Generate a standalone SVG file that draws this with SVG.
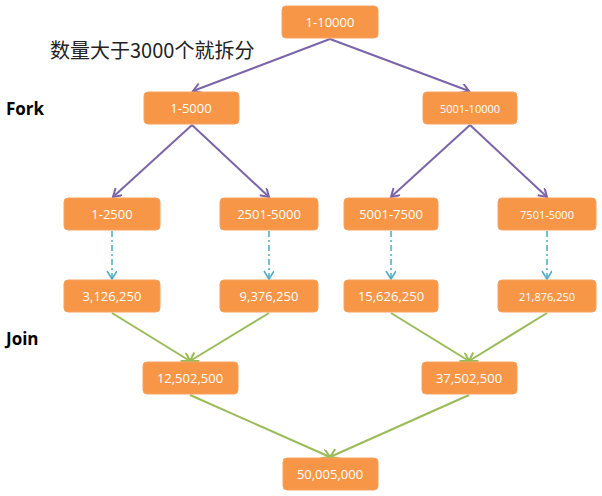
<svg xmlns="http://www.w3.org/2000/svg" width="602" height="496" viewBox="0 0 602 496">
<style>
.n rect{fill:#f79646;stroke:#f5a262;stroke-width:1}
.n text{fill:#fff;font-family:"Open Sans","Liberation Sans",sans-serif;font-size:13px;text-anchor:middle}
.p{stroke:#7965a8;stroke-width:2;fill:none;marker-end:url(#ap)}
.b{stroke:#4bacc6;stroke-width:1.5;fill:none;stroke-dasharray:6 3 2 3;marker-end:url(#ab)}
.g{stroke:#9bbb59;stroke-width:2;fill:none;marker-end:url(#ag)}
.l{font-family:"Open Sans","Liberation Sans",sans-serif;font-weight:bold;font-size:17px;fill:#000}
</style>
<defs>
<marker id="ap" markerWidth="12" markerHeight="12" refX="9" refY="5" orient="auto" markerUnits="userSpaceOnUse"><path d="M1,0 L9,5 L1,10" fill="none" stroke="#7965a8" stroke-width="2"/></marker>
<marker id="ab" markerWidth="12" markerHeight="12" refX="9" refY="5" orient="auto" markerUnits="userSpaceOnUse"><path d="M1,0 L9,5 L1,10" fill="none" stroke="#4bacc6" stroke-width="1.5"/></marker>
<marker id="ag" markerWidth="12" markerHeight="12" refX="9" refY="5" orient="auto" markerUnits="userSpaceOnUse"><path d="M1,0 L9,5 L1,10" fill="none" stroke="#9bbb59" stroke-width="2"/></marker>
</defs>
<rect width="602" height="496" fill="#fff"/>
<text x="50" y="58" font-family="Noto Sans CJK SC,sans-serif" font-size="20" fill="#222">数量大于3000个就拆分</text>
<text class="l" x="6" y="115">Fork</text>
<text class="l" x="6" y="345">Join</text>
<g id="connectors">
<path class="p" d="M330,39 L193,91"/>
<path class="p" d="M330,39 L469,91"/>
<path class="p" d="M192,125 L113,197"/>
<path class="p" d="M192,125 L269,197"/>
<path class="p" d="M470,125 L391,197"/>
<path class="p" d="M470,125 L547,197"/>
<path class="b" d="M112,231 V279"/>
<path class="b" d="M269,231 V279"/>
<path class="b" d="M391,231 V279"/>
<path class="b" d="M547,231 V279"/>
<path class="g" d="M112,313 L190,361"/>
<path class="g" d="M269,313 L190,361"/>
<path class="g" d="M391,313 L469,361"/>
<path class="g" d="M547,313 L469,361"/>
<path class="g" d="M190,395 L330,457"/>
<path class="g" d="M469,395 L330,457"/>
</g>
<g id="n1" class="n"><rect x="282" y="6" width="96" height="32" rx="4"/><text x="330" y="27">1-10000</text></g>
<g id="n2" class="n"><rect x="144" y="92" width="95" height="32" rx="4"/><text x="191" y="113">1-5000</text></g>
<g id="n3" class="n"><rect x="423" y="92" width="94" height="32" rx="4"/><text x="470" y="113" style="font-size:11px">5001-10000</text></g>
<g id="n4" class="n"><rect x="64" y="198" width="96" height="32" rx="4"/><text x="112" y="219">1-2500</text></g>
<g id="n5" class="n"><rect x="220" y="198" width="98" height="32" rx="4"/><text x="269" y="219">2501-5000</text></g>
<g id="n6" class="n"><rect x="344" y="198" width="94" height="32" rx="4"/><text x="391" y="219">5001-7500</text></g>
<g id="n7" class="n"><rect x="498" y="198" width="98" height="32" rx="4"/><text x="547" y="219" style="font-size:11px">7501-5000</text></g>
<g id="n8" class="n"><rect x="64" y="280" width="96" height="32" rx="4"/><text x="112" y="301">3,126,250</text></g>
<g id="n9" class="n"><rect x="220" y="280" width="98" height="32" rx="4"/><text x="269" y="301">9,376,250</text></g>
<g id="n10" class="n"><rect x="344" y="280" width="94" height="32" rx="4"/><text x="391" y="301">15,626,250</text></g>
<g id="n11" class="n"><rect x="498" y="280" width="98" height="32" rx="4"/><text x="547" y="301" style="font-size:11px">21,876,250</text></g>
<g id="n12" class="n"><rect x="143" y="362" width="95" height="32" rx="4"/><text x="190" y="383">12,502,500</text></g>
<g id="n13" class="n"><rect x="422" y="362" width="95" height="32" rx="4"/><text x="469" y="383">37,502,500</text></g>
<g id="n14" class="n"><rect x="283" y="458" width="95" height="32" rx="4"/><text x="330" y="479">50,005,000</text></g>
</svg>
